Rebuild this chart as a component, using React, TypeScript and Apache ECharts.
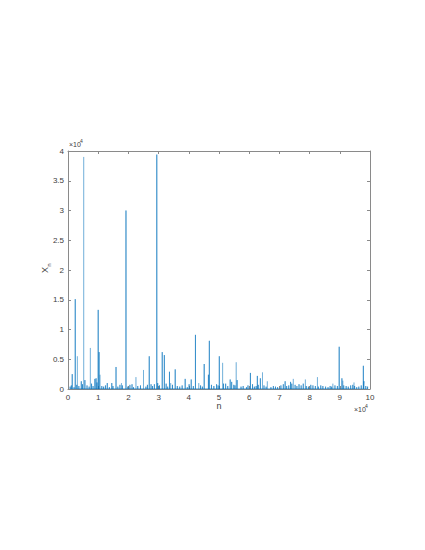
import React, { useEffect, useRef } from "react";
import * as echarts from "echarts";

// strong (solid) spikes: sample index n and value X_n
const strongN = [1400, 2400, 4400, 5600, 8900, 9300, 10000, 10300, 13000, 14500, 15900, 19200, 21200, 26900, 27500, 29400, 29700, 31200, 31900, 33600, 35500, 38800, 40800, 42200, 45100, 46500, 46800, 50100, 51500, 53700, 54200, 56000, 60400, 62700, 63700, 71900, 73700, 89800, 90700, 97800, 98000];
const strongV = [2500, 15100, 1300, 1500, 1700, 1800, 13300, 6200, 1000, 1000, 3700, 30000, 800, 5500, 800, 39400, 1000, 6200, 5700, 2900, 3300, 1700, 1600, 9100, 4200, 2400, 8100, 5500, 900, 1600, 1200, 1500, 2700, 2200, 1800, 1300, 1200, 7100, 1800, 3900, 1300];

// faint (lighter) spikes
const faintN = [3100, 5200, 7400, 10600, 17700, 22500, 25000, 34000, 43300, 51200, 55700, 64400, 66000, 74600, 78600, 82600, 87700, 91000, 94700];
const faintV = [5500, 39000, 6900, 2400, 1000, 2000, 3200, 1000, 1000, 4400, 4500, 2800, 1300, 1700, 1600, 2000, 900, 1400, 1100];

// small background spikes
const smallN = [700, 1100, 2000, 2900, 3600, 4800, 6300, 7000, 7800, 8300, 9600, 11200, 11800, 12400, 13700, 14900, 16500, 17200, 18000, 19800, 20500, 21700, 23100, 24000, 25800, 26300, 28000, 28600, 30300, 32500, 33000, 34600, 36200, 37000, 37800, 39500, 40100, 41500, 43900, 44500, 47500, 48300, 49200, 49700, 52200, 52900, 54900, 55300, 57300, 58000, 59100, 59600, 61100, 61700, 62300, 63000, 64900, 65600, 67200, 68000, 68700, 69400, 70500, 71300, 72400, 73100, 74100, 75200, 75800, 76500, 77200, 77900, 78900, 79600, 80400, 81100, 81900, 82900, 83700, 84400, 85300, 86100, 86800, 87300, 88400, 89200, 91300, 92100, 92800, 93600, 94300, 94900, 95600, 96300, 97100, 98600, 99200];
const smallV = [400, 600, 300, 700, 500, 800, 600, 400, 900, 500, 1100, 500, 400, 600, 300, 500, 400, 700, 600, 400, 700, 300, 500, 600, 400, 700, 500, 800, 600, 900, 400, 700, 500, 400, 600, 300, 800, 500, 600, 400, 700, 500, 800, 600, 900, 500, 700, 600, 400, 500, 300, 600, 800, 400, 500, 700, 600, 400, 300, 500, 400, 300, 600, 800, 500, 600, 900, 700, 500, 800, 600, 900, 500, 400, 700, 600, 500, 400, 600, 500, 400, 300, 500, 400, 600, 500, 600, 500, 400, 600, 700, 500, 300, 400, 600, 500, 400];

const xTicks = ["0", "1", "2", "3", "4", "5", "6", "7", "8", "9", "10"];
const yTicks = ["0", "0.5", "1", "1.5", "2", "2.5", "3", "3.5", "4"];

function spikes(ns: number[], vs: number[]) {
  const pairs = ns.map((n, i) => [n, vs[i]]).sort((a, b) => a[0] - b[0]);
  const out: number[][] = [];
  pairs.forEach(([n, v]) => {
    out.push([n, 0], [n, v], [n, 0]);
  });
  return out;
}

const FONT = "Liberation Sans";
const TXT = "#404040";
const AX = "#8a8a8a";

export default function App() {
  const ref = useRef<HTMLDivElement>(null);
  useEffect(() => {
    if (!ref.current) return;
    const chart = echarts.init(ref.current, undefined, { renderer: "svg" });
    const solid = spikes(strongN.concat(smallN), strongV.concat(smallV));
    const faint = spikes(faintN, faintV);
    const axisCommon = {
      min: 0,
      splitLine: { show: false },
      axisLine: { show: true, onZero: false, lineStyle: { color: AX, width: 1 } },
      axisTick: { show: true, inside: true, length: 3, lineStyle: { color: AX } },
    };
    chart.setOption({
      animation: false,
      grid: { left: 68, right: 55, top: 151, bottom: 161, containLabel: false },
      xAxis: [
        {
          ...axisCommon,
          type: "value",
          max: 100000,
          interval: 10000,
          position: "bottom",
          axisLabel: {
            fontFamily: FONT,
            fontSize: 8,
            color: TXT,
            margin: 4,
            formatter: (v: number) => xTicks[Math.round(v / 10000)] ?? "",
          },
        },
        {
          ...axisCommon,
          type: "value",
          max: 100000,
          interval: 10000,
          position: "top",
          axisLabel: { show: false },
        },
      ],
      yAxis: [
        {
          ...axisCommon,
          type: "value",
          max: 40000,
          interval: 5000,
          position: "left",
          axisLabel: {
            fontFamily: FONT,
            fontSize: 8,
            color: TXT,
            margin: 4,
            formatter: (v: number) => yTicks[Math.round(v / 5000)] ?? "",
          },
        },
        {
          ...axisCommon,
          type: "value",
          max: 40000,
          interval: 5000,
          position: "right",
          axisLabel: { show: false },
        },
      ],
      series: [
        {
          type: "line",
          xAxisIndex: 0,
          yAxisIndex: 0,
          data: faint,
          showSymbol: false,
          symbol: "none",
          lineStyle: { color: "rgba(0,114,189,0.4)", width: 0.8 },
          itemStyle: { color: "#0072BD" },
        },
        {
          type: "line",
          xAxisIndex: 0,
          yAxisIndex: 0,
          data: solid,
          showSymbol: false,
          symbol: "none",
          lineStyle: { color: "rgba(0,114,189,0.8)", width: 0.7 },
          itemStyle: { color: "#0072BD" },
        },
      ],
      graphic: [
        { type: "text", left: 69, top: 141, style: { text: "×10", fontSize: 7, fontFamily: FONT, fill: TXT } },
        { type: "text", left: 80, top: 138, style: { text: "4", fontSize: 5, fontFamily: FONT, fill: TXT } },
        { type: "text", left: 354, top: 406, style: { text: "×10", fontSize: 7, fontFamily: FONT, fill: TXT } },
        { type: "text", left: 365, top: 403, style: { text: "4", fontSize: 5, fontFamily: FONT, fill: TXT } },
        {
          type: "text",
          x: 219,
          y: 406,
          style: { text: "n", fontSize: 9, fontFamily: FONT, fill: TXT, align: "center", verticalAlign: "middle" },
        },
        {
          type: "group",
          x: 45,
          y: 270,
          rotation: Math.PI / 2,
          children: [
            { type: "text", x: 0, y: 0, style: { text: "X", fontSize: 9, fontFamily: FONT, fill: TXT, align: "center", verticalAlign: "middle" } },
            { type: "text", x: 5, y: 4, style: { text: "n", fontSize: 6, fontFamily: FONT, fill: TXT, align: "center", verticalAlign: "middle" } },
          ],
        },
      ],
    });
    return () => chart.dispose();
  }, []);
  return <div ref={ref} style={{ position: "absolute", left: 0, top: 0, width: 425, height: 550 }} />;
}
